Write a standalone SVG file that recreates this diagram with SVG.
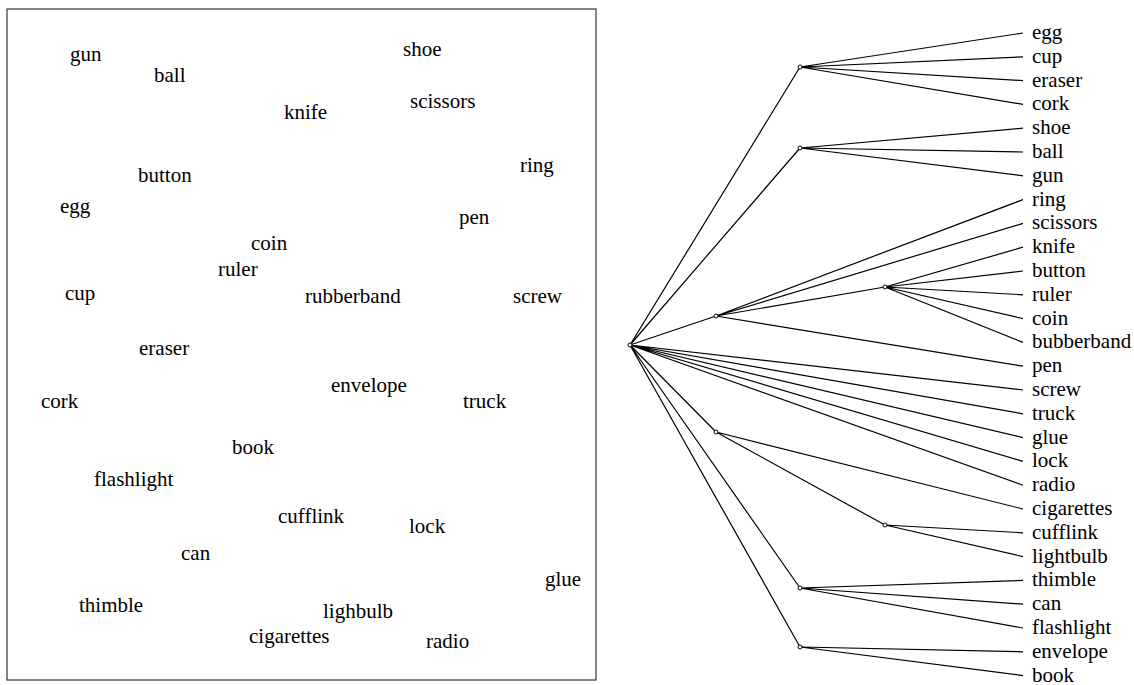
<svg xmlns="http://www.w3.org/2000/svg" width="1134" height="685" viewBox="0 0 1134 685" font-family="Liberation Serif, Times New Roman, DejaVu Serif, serif">
<style>
text{font-family:'Liberation Serif','Times New Roman','DejaVu Serif',serif;font-size:21px;fill:#000}
.e{stroke:#000;stroke-width:1.2;fill:none}
.n{stroke:#000;stroke-width:1;fill:#fff}
.frame{stroke:#333;stroke-width:1.2;fill:none}
</style>
<rect width="1134" height="685" fill="#fff"/>
<g id="scatter">
<rect class="frame" x="7" y="9" width="589" height="671"/>
<text x="70" y="61">gun</text>
<text x="154" y="82">ball</text>
<text x="403" y="56">shoe</text>
<text x="284" y="119">knife</text>
<text x="410" y="108">scissors</text>
<text x="520" y="172">ring</text>
<text x="138" y="182">button</text>
<text x="60" y="213">egg</text>
<text x="459" y="224">pen</text>
<text x="251" y="250">coin</text>
<text x="218" y="276">ruler</text>
<text x="65" y="300">cup</text>
<text x="305" y="303">rubberband</text>
<text x="513" y="303">screw</text>
<text x="139" y="355">eraser</text>
<text x="331" y="392">envelope</text>
<text x="41" y="408">cork</text>
<text x="463" y="408">truck</text>
<text x="232" y="454">book</text>
<text x="94" y="486">flashlight</text>
<text x="278" y="523">cufflink</text>
<text x="409" y="533">lock</text>
<text x="181" y="560">can</text>
<text x="545" y="586">glue</text>
<text x="79" y="612">thimble</text>
<text x="323" y="618">lighbulb</text>
<text x="249" y="643">cigarettes</text>
<text x="426" y="648">radio</text>
</g>
<g id="connectors">
<path class="e" d="M630,345L800,67M630,345L800,148M630,345L716,316M630,345L1023,390M630,345L1023,413.8M630,345L1023,437.6M630,345L1023,461.4M630,345L1023,485.2M630,345L716,432M630,345L800,588M630,345L800,647"/>
<path class="e" d="M800,67L1023,33M800,67L1023,56.8M800,67L1023,80.6M800,67L1023,104.4"/>
<path class="e" d="M800,148L1023,128.2M800,148L1023,152M800,148L1023,175.8"/>
<path class="e" d="M716,316L1023,199.6M716,316L1023,223.4M716,316L885,287M716,316L1023,366.2"/>
<path class="e" d="M885,287L1023,247.2M885,287L1023,271M885,287L1023,294.8M885,287L1023,318.6M885,287L1023,342.4"/>
<path class="e" d="M716,432L1023,509M716,432L885,525"/>
<path class="e" d="M885,525L1023,532.8M885,525L1023,556.6"/>
<path class="e" d="M800,588L1023,580.4M800,588L1023,604.2M800,588L1023,628"/>
<path class="e" d="M800,647L1023,651.8M800,647L1023,675.6"/>
</g>
<g id="root"><circle class="n" cx="630" cy="345" r="2"/></g>
<g id="nA"><circle class="n" cx="800" cy="67" r="2"/></g>
<g id="nB"><circle class="n" cx="800" cy="148" r="2"/></g>
<g id="nC"><circle class="n" cx="716" cy="316" r="2"/></g>
<g id="nD"><circle class="n" cx="885" cy="287" r="2"/></g>
<g id="nE"><circle class="n" cx="716" cy="432" r="2"/></g>
<g id="nG"><circle class="n" cx="885" cy="525" r="2"/></g>
<g id="nF"><circle class="n" cx="800" cy="588" r="2"/></g>
<g id="nH"><circle class="n" cx="800" cy="647" r="2"/></g>
<g id="leaves">
<text x="1032" y="39">egg</text>
<text x="1032" y="62.8">cup</text>
<text x="1032" y="86.6">eraser</text>
<text x="1032" y="110.4">cork</text>
<text x="1032" y="134.2">shoe</text>
<text x="1032" y="158">ball</text>
<text x="1032" y="181.8">gun</text>
<text x="1032" y="205.6">ring</text>
<text x="1032" y="229.4">scissors</text>
<text x="1032" y="253.2">knife</text>
<text x="1032" y="277">button</text>
<text x="1032" y="300.8">ruler</text>
<text x="1032" y="324.6">coin</text>
<text x="1032" y="348.4">bubberband</text>
<text x="1032" y="372.2">pen</text>
<text x="1032" y="396">screw</text>
<text x="1032" y="419.8">truck</text>
<text x="1032" y="443.6">glue</text>
<text x="1032" y="467.4">lock</text>
<text x="1032" y="491.2">radio</text>
<text x="1032" y="515">cigarettes</text>
<text x="1032" y="538.8">cufflink</text>
<text x="1032" y="562.6">lightbulb</text>
<text x="1032" y="586.4">thimble</text>
<text x="1032" y="610.2">can</text>
<text x="1032" y="634">flashlight</text>
<text x="1032" y="657.8">envelope</text>
<text x="1032" y="681.6">book</text>
</g>
</svg>
